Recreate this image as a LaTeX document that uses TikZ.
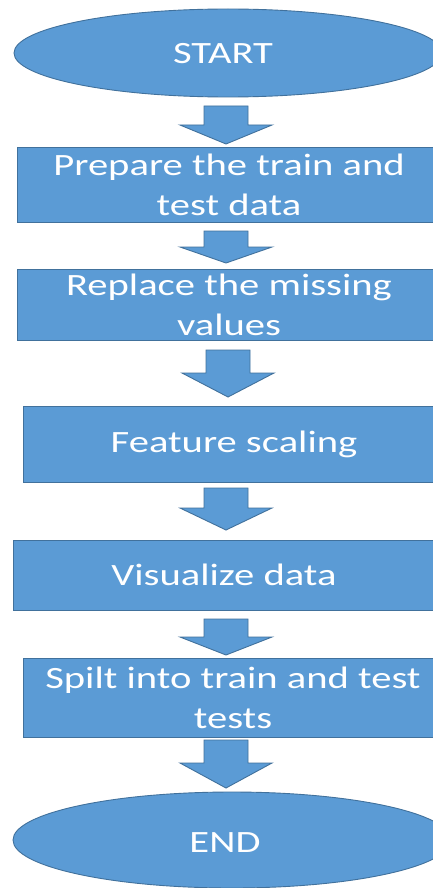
\documentclass[tikz,border=0pt]{standalone}
\usepackage{fontspec}
\setmainfont{Carlito}[FakeStretch=1.31]
\usetikzlibrary{shapes.geometric}
\definecolor{fillblue}{HTML}{5B9BD5}
\definecolor{edgeblue}{HTML}{41719C}
\newcommand\blockarrow[4]{%
  \draw[blockarr] ({#1-22},#2) -- ({#1+22},#2) -- ({#1+22},#3) -- ({#1+46},#3)
    -- (#1,#4) -- ({#1-46},#3) -- ({#1-22},#3) -- cycle;}
\begin{document}
\begin{tikzpicture}[x=1pt,y=-1pt,
  every node/.style={text=white,font=\fontsize{31}{40}\selectfont},
  flowbox/.style={rectangle,draw=edgeblue,fill=fillblue,line width=0.9pt,inner sep=0pt,align=center},
  terminal/.style={ellipse,draw=edgeblue,fill=fillblue,line width=0.9pt,inner sep=0pt},
  blockarr/.style={draw=edgeblue,fill=fillblue,line width=0.9pt,line join=miter}]
\useasboundingbox (0,0) rectangle (433,888);
\clip (0,0) rectangle (433,888);
\fill[white] (0,0) rectangle (433,888);
% START
\node[terminal,minimum width=428pt,minimum height=88pt] (start) at (228,53) {};
\node (starttext) at (223,53.5) {START};
\blockarrow{226}{106}{125}{144}
% box 1
\node[flowbox,minimum width=424pt,minimum height=75pt] (prep) at (229,184.5) {Prepare the train and\\test data};
\blockarrow{226}{231}{247}{263}
% box 2
\node[flowbox,minimum width=424pt,minimum height=71pt] (repl) at (229,304.5) {Replace the missing\\values};
\blockarrow{228}{350}{373}{397}
% box 3
\node[flowbox,minimum width=422pt,minimum height=76pt] (feat) at (234,444) {Feature scaling};
\blockarrow{226}{488}{508}{530}
% box 4
\node[flowbox,minimum width=422pt,minimum height=70pt] (vis) at (224,575) {Visualize data};
\blockarrow{226}{619}{637}{655}
% box 5
\node[flowbox,minimum width=420pt,minimum height=79pt] (split) at (233,697.5) {Spilt into train and test\\tests};
\blockarrow{226}{740}{763}{788}
% END
\node[terminal,minimum width=438pt,minimum height=96pt] (end) at (232,840) {};
\node (endtext) at (225,843) {END};
\end{tikzpicture}
\end{document}
